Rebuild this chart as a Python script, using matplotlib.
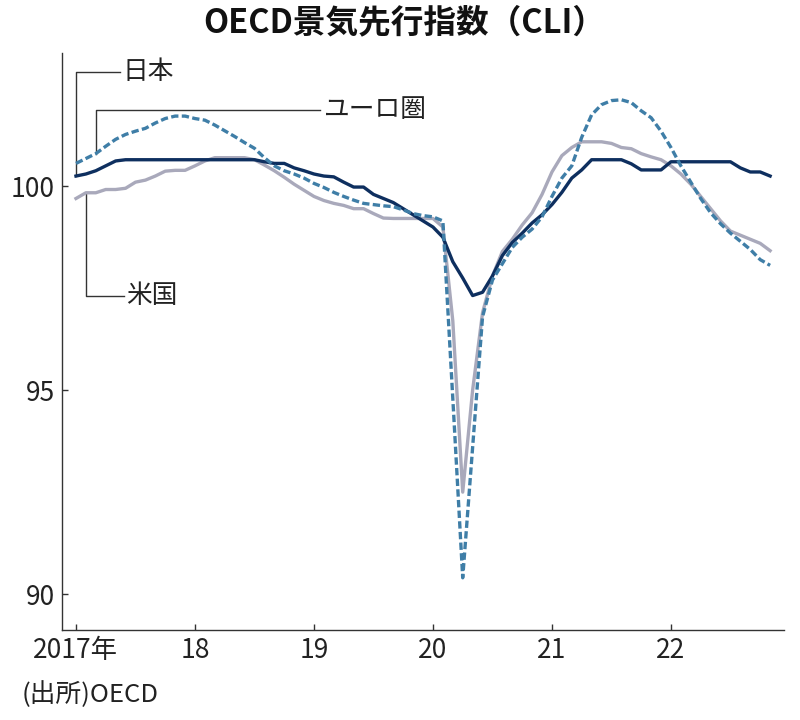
import matplotlib
matplotlib.use("Agg")
import matplotlib.pyplot as plt

# 月次データ 2017年1月〜2022年11月
months = list(range(71))
japan = [100.25, 100.3, 100.38, 100.5, 100.62, 100.65, 100.65, 100.65, 100.65, 100.65,
         100.65, 100.65, 100.65, 100.65, 100.65, 100.65, 100.65, 100.65, 100.65, 100.6,
         100.56, 100.56, 100.45, 100.38, 100.3, 100.25, 100.23, 100.1, 99.98, 99.98,
         99.8, 99.7, 99.6, 99.45, 99.3, 99.15, 99.0, 98.75, 98.15, 97.75,
         97.32, 97.4, 97.8, 98.3, 98.62, 98.85, 99.1, 99.3, 99.55, 99.85,
         100.2, 100.4, 100.65, 100.65, 100.65, 100.65, 100.55, 100.4, 100.4, 100.4,
         100.6, 100.6, 100.6, 100.6, 100.6, 100.6, 100.6, 100.45, 100.35, 100.35,
         100.25]
euro = [100.56, 100.68, 100.8, 100.98, 101.15, 101.27, 101.35, 101.42, 101.55, 101.66,
        101.72, 101.72, 101.66, 101.62, 101.5, 101.36, 101.22, 101.07, 100.93, 100.7,
        100.5, 100.38, 100.3, 100.2, 100.07, 99.97, 99.85, 99.75, 99.66, 99.58,
        99.55, 99.52, 99.5, 99.42, 99.33, 99.28, 99.25, 99.15, 94.8, 90.4,
        93.6, 96.8, 97.7, 98.1, 98.5, 98.75, 98.95, 99.25, 99.75, 100.2,
        100.5, 101.2, 101.75, 102.0, 102.1, 102.12, 102.05, 101.85, 101.68, 101.35,
        100.95, 100.5, 100.1, 99.7, 99.35, 99.08, 98.85, 98.65, 98.45, 98.2,
        98.06]
usa = [99.7, 99.84, 99.84, 99.92, 99.92, 99.95, 100.1, 100.15, 100.25, 100.37,
       100.39, 100.39, 100.5, 100.62, 100.7, 100.7, 100.7, 100.7, 100.65, 100.52,
       100.38, 100.22, 100.05, 99.9, 99.75, 99.65, 99.58, 99.53, 99.45, 99.45,
       99.33, 99.22, 99.21, 99.21, 99.21, 99.21, 99.21, 99.0, 96.7, 92.5,
       95.0, 96.9, 97.8, 98.4, 98.7, 99.05, 99.35, 99.8, 100.35, 100.75,
       100.95, 101.09, 101.09, 101.09, 101.05, 100.95, 100.92, 100.8, 100.72, 100.65,
       100.5, 100.3, 100.05, 99.75, 99.45, 99.15, 98.9, 98.8, 98.7, 98.6,
       98.42]

xticks = [0, 12, 24, 36, 48, 60]
xlabels = ["2017年", "18", "19", "20", "21", "22"]
yticks = [90, 95, 100]

plt.rcParams["font.family"] = ["Noto Sans CJK JP", "DejaVu Sans"]

c_jp = "#0e2f5f"
c_eu = "#3f7ea7"
c_us = "#a9a9bb"
txt = "#222222"

fig = plt.figure(figsize=(8, 7.2), dpi=100)
ax = fig.add_axes([0.0775, 0.125, 0.9025, 0.801])

ax.plot(months, usa, color=c_us, lw=2.4, solid_joinstyle="round", zorder=2)
ax.plot(months, japan, color=c_jp, lw=2.4, solid_joinstyle="round", zorder=3)
ax.plot(months, euro, color=c_eu, lw=2.4, dashes=(2.2, 1.0), zorder=4)

ax.set_xlim(-1.41, 71.4)
ax.set_ylim(89.12, 103.26)
ax.set_xticks(xticks)
ax.set_xticklabels(xlabels, fontsize=19, color=txt)
ax.set_yticks(yticks)
ax.set_yticklabels([str(v) for v in yticks], fontsize=19, color=txt)
ax.tick_params(axis="both", direction="in", length=4, width=1, color="#333333")
ax.tick_params(axis="x", pad=5)
ax.tick_params(axis="y", pad=5)
for s in ["top", "right"]:
    ax.spines[s].set_visible(False)
for s in ["left", "bottom"]:
    ax.spines[s].set_color("#333333")
    ax.spines[s].set_linewidth(1)

# 引き出し線とラベル
lead = dict(color="#333333", lw=1, zorder=1, clip_on=False)
ax.plot([0, 0, 4.4], [japan[0], 102.79, 102.79], **lead)
ax.text(4.7, 102.79, "日本", fontsize=18.5, color=txt, va="center", ha="left")
ax.plot([2, 2, 24.6], [euro[2], 101.86, 101.86], **lead)
ax.text(25.0, 101.86, "ユーロ圏", fontsize=18.5, color=txt, va="center", ha="left")
ax.plot([1, 1, 4.8], [usa[1], 97.3, 97.3], **lead)
ax.text(5.1, 97.3, "米国", fontsize=18.5, color=txt, va="center", ha="left")

fig.text(0.505, 0.968, "OECD景気先行指数（CLI）", ha="center", va="center",
         fontsize=23.5, fontweight="bold", color="#111111")
fig.text(0.027, 0.035, "(出所)OECD", ha="left", va="center",
         fontsize=18.5, color=txt)

fig.savefig("out.png", dpi=100)
